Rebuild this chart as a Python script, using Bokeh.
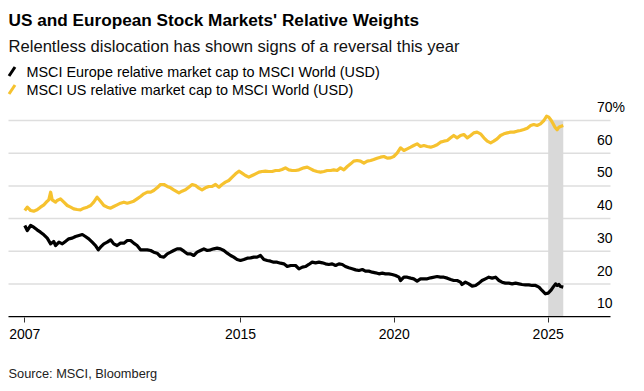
from bokeh.plotting import figure
from bokeh.models import Range1d, FixedTicker
from bokeh.layouts import column
from bokeh.embed import file_html
from bokeh.resources import INLINE
from bokeh.core.properties import value

# ---------------- data ----------------
us_year = [2007.99, 2008.07, 2008.18, 2008.28, 2008.39, 2008.50, 2008.61, 2008.72, 2008.77, 2008.83,
           2008.88, 2008.99, 2009.04, 2009.15, 2009.26, 2009.37, 2009.48, 2009.58, 2009.69, 2009.80,
           2009.91, 2010.02, 2010.13, 2010.23, 2010.34, 2010.45, 2010.56, 2010.67, 2010.78, 2010.88,
           2010.99, 2011.10, 2011.21, 2011.32, 2011.43, 2011.53, 2011.64, 2011.75, 2011.86, 2011.97,
           2012.08, 2012.18, 2012.29, 2012.40,
           2012.51, 2012.62, 2012.73, 2012.83, 2013.00, 2013.10, 2013.21, 2013.32, 2013.43, 2013.54,
           2013.65, 2013.75, 2013.86, 2013.97, 2014.08, 2014.19, 2014.30, 2014.40, 2014.51, 2014.62,
           2014.73, 2014.84, 2014.95, 2015.05, 2015.16, 2015.27, 2015.38, 2015.49, 2015.60, 2015.70,
           2015.81, 2015.92, 2016.03, 2016.14, 2016.25, 2016.35, 2016.46, 2016.57, 2016.68, 2016.79,
           2016.90, 2017.06, 2017.17, 2017.28, 2017.38, 2017.49, 2017.60, 2017.71, 2017.82, 2017.93,
           2018.03, 2018.14, 2018.25, 2018.36, 2018.47, 2018.58, 2018.68, 2018.79, 2018.90, 2019.01,
           2019.12, 2019.23, 2019.33, 2019.44, 2019.55, 2019.66, 2019.77, 2019.88, 2019.98, 2020.09,
           2020.20, 2020.31, 2020.42, 2020.53, 2020.63, 2020.74, 2020.85, 2020.96, 2021.07, 2021.18,
           2021.28, 2021.39, 2021.50, 2021.61, 2021.72, 2021.83, 2021.93, 2022.04, 2022.15, 2022.26,
           2022.37, 2022.48, 2022.58, 2022.69, 2022.80, 2022.91, 2023.02, 2023.13, 2023.23, 2023.34,
           2023.45, 2023.56, 2023.67, 2023.78, 2023.88, 2023.99, 2024.10, 2024.21, 2024.32, 2024.43,
           2024.53, 2024.64, 2024.75, 2024.86, 2024.95, 2025.02, 2025.10, 2025.16, 2025.22, 2025.29,
           2025.35, 2025.40, 2025.49]
us_share = [42.48, 43.50, 42.48, 42.27, 42.68, 43.50, 44.21, 45.33, 45.74, 48.08,
            45.74, 45.03, 45.54, 46.05, 45.03, 44.01, 43.50, 42.99, 42.78, 42.68,
            43.19, 43.50, 44.01, 45.03, 46.55, 45.33, 44.01, 43.50, 43.19, 43.70,
            44.21, 44.72, 45.03, 44.72, 45.03, 45.33, 46.05, 46.76, 47.57, 48.08,
            48.08, 48.59, 49.41, 50.43,
            50.43, 49.82, 49.41, 48.80, 47.88, 48.39, 48.80, 49.61, 50.43, 50.12,
            49.31, 48.80, 49.41, 49.82, 49.82, 50.43, 49.61, 50.43, 51.14, 51.65,
            52.67, 53.69, 54.51, 53.90, 53.18, 52.67, 53.18, 53.69, 54.20, 54.41,
            54.51, 54.41, 54.41, 54.71, 54.71, 55.02, 55.53, 54.92, 54.71, 54.71,
            54.92, 55.53, 55.73, 55.22, 54.71, 54.41, 54.20, 54.41, 54.71, 54.71,
            54.92, 54.71, 55.53, 54.92, 55.93, 56.75, 57.57, 57.77, 57.57, 56.95,
            57.57, 57.77, 58.08, 58.48, 58.79, 58.99, 58.48, 58.58, 58.99, 60.01,
            61.64, 60.83, 61.34, 61.85, 62.36, 62.87, 62.05, 62.36, 62.05, 61.85,
            62.15, 62.56, 63.38, 63.68, 63.89, 64.70, 65.42, 64.70, 65.42, 65.72,
            64.70, 65.42, 66.23, 66.44, 65.93, 64.70, 63.68, 63.17, 63.68, 64.40,
            65.42, 65.93, 66.23, 66.44, 66.44, 66.74, 66.95, 67.25, 67.66, 68.47,
            68.78, 68.47, 68.98, 70.00, 71.33, 71.02, 70.00, 68.98, 67.96, 67.15,
            67.96, 68.17, 68.47]

eu_year = [2007.99, 2008.07, 2008.18, 2008.28, 2008.39, 2008.50, 2008.61, 2008.72, 2008.83, 2008.93,
           2008.99, 2009.10, 2009.21, 2009.31, 2009.42, 2009.53, 2009.64, 2009.75, 2009.86, 2009.96,
           2010.07, 2010.18, 2010.29, 2010.38, 2010.45, 2010.56, 2010.67, 2010.78, 2010.88, 2010.99,
           2011.10, 2011.21, 2011.32, 2011.43, 2011.53, 2011.64, 2011.75, 2011.86, 2011.97, 2012.08,
           2012.18, 2012.29, 2012.40,
           2012.51, 2012.62, 2012.73, 2012.83, 2012.94, 2013.05, 2013.16, 2013.27, 2013.38, 2013.48,
           2013.59, 2013.70, 2013.81, 2013.92, 2014.03, 2014.13, 2014.24, 2014.35, 2014.46, 2014.57,
           2014.68, 2014.78, 2014.89, 2015.00, 2015.11, 2015.22, 2015.33, 2015.43, 2015.54, 2015.65,
           2015.76, 2015.87, 2015.98, 2016.08, 2016.19, 2016.30, 2016.41, 2016.52, 2016.63, 2016.79,
           2016.90, 2017.01, 2017.11, 2017.22, 2017.33, 2017.44, 2017.55, 2017.66, 2017.76, 2017.87,
           2017.98, 2018.09, 2018.20, 2018.31, 2018.41, 2018.52, 2018.63, 2018.74, 2018.85, 2018.96,
           2019.06, 2019.17, 2019.28, 2019.39, 2019.50, 2019.61, 2019.71, 2019.82, 2019.93, 2020.04,
           2020.15, 2020.20, 2020.31, 2020.42, 2020.53, 2020.63, 2020.74, 2020.85, 2020.96, 2021.07,
           2021.18,
           2021.39, 2021.50, 2021.61, 2021.72, 2021.83, 2021.93, 2022.04, 2022.15, 2022.20, 2022.31,
           2022.42, 2022.53, 2022.64, 2022.75, 2022.85, 2022.96, 2023.07, 2023.18, 2023.29, 2023.40,
           2023.50, 2023.61, 2023.72, 2023.83, 2023.94, 2024.05, 2024.15, 2024.26, 2024.37, 2024.48,
           2024.59, 2024.70, 2024.80, 2024.91, 2025.00, 2025.10, 2025.16, 2025.24, 2025.29, 2025.35,
           2025.40, 2025.49]
eu_share = [37.89, 36.36, 37.89, 37.38, 36.57, 35.85, 35.04, 34.02, 32.28, 33.00,
            31.77, 32.79, 32.28, 33.00, 33.81, 34.02, 34.53, 34.83, 35.14, 34.53,
            33.81, 32.79, 31.77, 30.45, 31.26, 32.28, 32.79, 33.51, 32.28, 31.77,
            32.49, 32.49, 33.30, 33.30, 32.49, 31.77, 30.45, 30.45, 30.45, 30.24,
            29.73, 29.43, 28.41,
            28.21, 29.23, 29.74, 30.25, 30.76, 30.76, 30.04, 29.23, 29.23, 28.72,
            29.74, 30.25, 30.76, 30.25, 30.45, 30.76, 30.96, 30.76, 30.25, 29.43,
            28.72, 28.21, 27.49, 27.19, 27.49, 27.90, 28.00, 28.21, 28.21, 28.72,
            27.49, 27.19, 26.98, 26.68, 26.68, 26.37, 26.17, 25.35, 25.66, 25.66,
            24.64, 25.15, 25.35, 25.97, 26.68, 26.47, 26.68, 26.47, 26.17, 25.97,
            26.17, 25.66, 26.17, 25.97, 25.35, 24.95, 24.64, 24.33, 24.13, 24.44,
            23.93, 23.93, 23.62, 23.42, 23.11, 23.31, 23.11, 23.11, 22.91, 22.60,
            22.09, 21.07, 22.09, 22.09, 21.79, 21.58, 20.87, 21.58, 21.58, 21.58,
            21.89,
            22.30, 22.09, 22.09, 21.79, 21.38, 21.07, 21.07, 20.56, 19.85, 20.56,
            20.05, 19.34, 19.55, 20.26, 21.07, 21.58, 22.09, 21.79, 22.09, 21.07,
            20.56, 20.26, 20.26, 20.05, 20.26, 20.05, 19.85, 19.75, 19.75, 19.55,
            19.55, 19.03, 18.02, 17.00, 17.20, 18.22, 19.03, 20.05, 19.55, 19.85,
            19.24, 19.03]

x_tick_pos = [2007.99, 2015.0, 2020.0, 2025.0]
x_tick_labels = ["2007", "2015", "2020", "2025"]
y_ticks = [10, 20, 30, 40, 50, 60, 70]
y_tick_labels = ["10", "20", "30", "40", "50", "60", "70"]
band_start = [2025.0]
band_end = [us_year[-1]]

title = "US and European Stock Markets' Relative Weights"
subtitle = "Relentless dislocation has shown signs of a reversal this year"
legend_labels = ["MSCI Europe relative market cap to MSCI World (USD)",
                 "MSCI US relative market cap to MSCI World (USD)"]
source = "Source: MSCI, Bloomberg"

# ---------------- styling ----------------
FONT = "Liberation Sans"
YELLOW = "#F6C22F"
BLACK = "#000000"
GRID = "#DEDEDE"
BAND = "#D9D9D9"
W = 644
X_START, X_END = 2007.4605, 2027.025


def blank(height):
    f = figure(width=W, height=height, x_range=Range1d(0, W), y_range=Range1d(height, 0),
               title=None, toolbar_location=None, output_backend="svg", min_border=0,
               x_axis_location=None, y_axis_location=None, outline_line_color=None)
    f.xgrid.visible = False
    f.ygrid.visible = False
    return f


# header (coordinates in pixels from the top-left)
header = blank(100)
header.text(x=[8], y=[19.5], text=[title], text_font=value(FONT), text_font_style="bold",
            text_font_size="17.2px", text_color=BLACK, text_baseline="middle", text_align="left")
header.text(x=[8], y=[46], text=[subtitle], text_font=value(FONT), text_font_size="16.6px",
            text_color="#111111", text_baseline="middle", text_align="left")
header.segment(x0=[8.5, 8.5], y0=[75.5, 93.5], x1=[14.5, 14.5], y1=[66.5, 84.5],
               line_color=[BLACK, YELLOW], line_width=3)
header.text(x=[26, 26], y=[71, 89], text=legend_labels, text_font=value(FONT), text_font_size="14.4px",
            text_color=BLACK, text_baseline="middle", text_align="left")

# main plot
p = figure(width=W, height=248, x_range=Range1d(2007.2005, 2028.13), y_range=Range1d(9.755, 76.12),
           title=None, toolbar_location=None, output_backend="svg", min_border_left=0, min_border_right=0,
           min_border_top=0, min_border_bottom=31, y_axis_location=None, outline_line_color=None)
p.xgrid.visible = False
p.ygrid.visible = False

grid_vals = y_ticks[1:]
p.segment(x0=[X_START] * len(grid_vals), x1=[X_END] * len(grid_vals), y0=grid_vals, y1=grid_vals,
          line_color=GRID, line_width=1.5)
p.quad(left=band_start, right=band_end, bottom=[y_ticks[0]], top=[y_ticks[-1]],
       fill_color=BAND, line_color=None)
p.segment(x0=[X_START], x1=[X_END], y0=[y_ticks[0]], y1=[y_ticks[0]], line_color=BLACK, line_width=1.5)

p.line(us_year, us_share, line_color=YELLOW, line_width=3.2, line_join="round")
p.line(eu_year, eu_share, line_color=BLACK, line_width=3.2, line_join="round")

p.text(x=[X_END] * len(y_ticks), y=y_ticks, text=y_tick_labels, text_font=value(FONT),
       text_font_size="14px", text_color=BLACK, text_align="right", text_baseline="middle",
       x_offset=2, y_offset=-13.5)
p.text(x=[X_END], y=[y_ticks[-1]], text=["%"], text_font=value(FONT), text_font_size="14px",
       text_color=BLACK, text_align="left", text_baseline="middle", x_offset=2, y_offset=-13.5)

ax = p.xaxis[0]
ax.ticker = FixedTicker(ticks=x_tick_pos)
ax.major_label_overrides = {k: v for k, v in zip(x_tick_pos, x_tick_labels)}
ax.axis_line_color = None
ax.major_tick_in = 0
ax.major_tick_out = 5
ax.major_tick_line_color = "#333333"
ax.minor_tick_line_color = None
ax.major_label_text_font = FONT
ax.major_label_text_font_size = "14px"
ax.major_label_text_color = BLACK
ax.major_label_standoff = 6

# footer
footer = blank(43)
footer.text(x=[8], y=[24.6], text=[source], text_font=value(FONT), text_font_size="12.8px",
            text_color="#222222", text_baseline="middle", text_align="left")

layout = column(header, p, footer)
open("out.html", "w").write(file_html(layout, INLINE))
